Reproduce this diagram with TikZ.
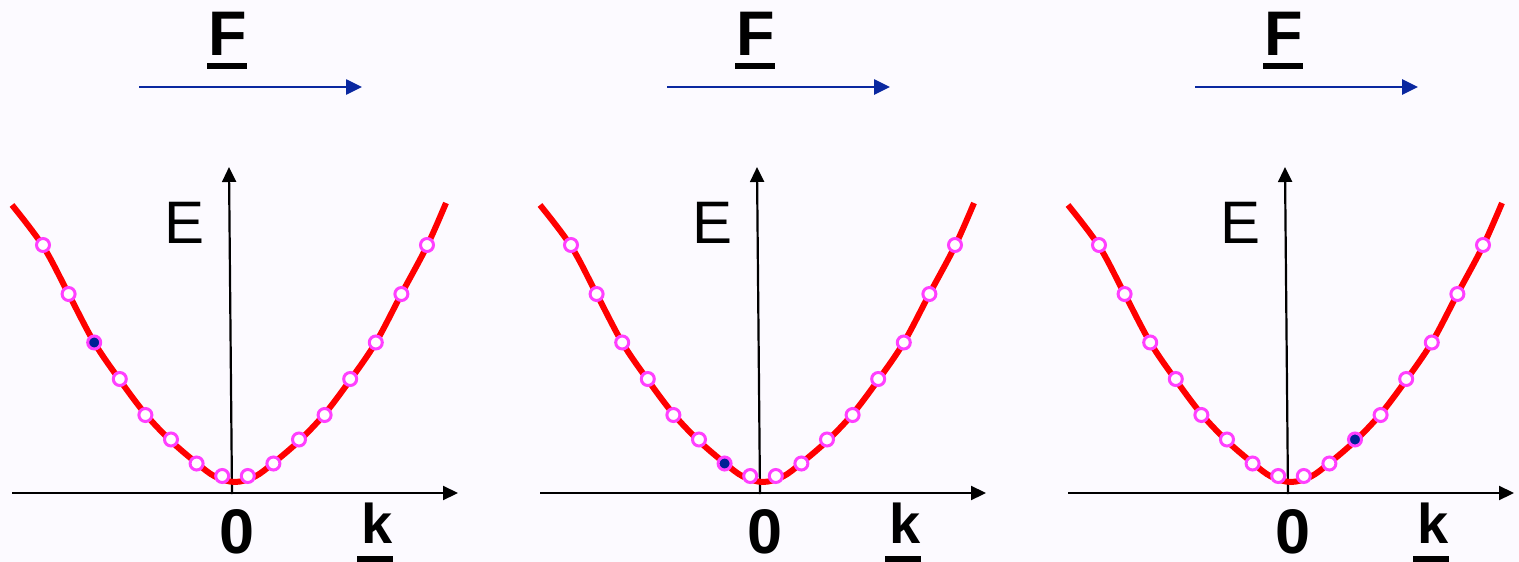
\documentclass[tikz,border=0pt]{standalone}
\usepackage{fontspec}
\setmainfont{Liberation Sans}
\usetikzlibrary{arrows.meta}
\definecolor{bg}{RGB}{252,250,255}
\definecolor{fblue}{RGB}{10,40,160}
\definecolor{dotring}{RGB}{255,64,255}
\definecolor{dotfill}{RGB}{0,32,150}
\tikzset{
  axis/.style={black,line width=2.2pt,-{Triangle[length=15pt,width=14pt]}},
  force/.style={draw=fblue,line width=2.6pt,-{Triangle[length=16pt,width=15pt]}},
  band/.style={red,line width=6pt},
  freestate/.style={circle,draw=dotring,line width=3pt,fill=white,minimum size=13pt,inner sep=0pt},
  occstate/.style={circle,draw=dotring,line width=3pt,fill=dotfill,minimum size=13pt,inner sep=0pt},
  lbl/.style={inner sep=0pt,anchor=base},
  bigbold/.style={font=\bfseries\fontsize{#1}{#1}\selectfont},
  bigreg/.style={font=\fontsize{#1}{#1}\selectfont},
}
\begin{document}
\begin{tikzpicture}[x=1pt,y=-1pt]
\fill[bg] (0,0) rectangle (1519,562);
\useasboundingbox (0,0) rectangle (1519,562);
\foreach \p/\occ in {0/3,1/7,2/11} {
  \begin{scope}[xshift={\p*528pt}]
    % force label and arrow
    \node[lbl,bigbold=63] (F\p) at (228,55) {F};
    \fill ([xshift=-21pt,yshift=-8pt]F\p.base) rectangle ([xshift=19pt,yshift=-14pt]F\p.base);
    \coordinate (fs\p) at (139,87);
    \coordinate (fe\p) at (362,87);
    \draw[force] (fs\p) -- (fe\p);
    % axes
    \coordinate (xo\p) at (12,493);
    \coordinate (xe\p) at (458,493);
    \coordinate (yo\p) at (232,494);
    \coordinate (ye\p) at (229,167);
    \draw[axis] (xo\p) -- (xe\p);
    \draw[axis] (yo\p) -- (ye\p);
    % band
    \draw[band] plot[smooth,tension=0.55] coordinates {
      (12,205) (43,246) (68.6,294) (94.2,342.5) (119.8,380) (145.4,414)
      (171,441) (196.6,463) (215,476.5) (235,482) (255,476.5) (273.4,463)
      (299,441) (324.6,414) (350.2,380) (375.8,342.5) (401.4,294) (427,246) (446,203)};
    % states
    \foreach \x/\y [count=\n] in {43/245,68.6/294,94.2/342.5,119.8/379,145.4/415,171/439.5,196.6/463.5,222.2/476,
                                  247.8/476,273.4/463.5,299/439.5,324.6/415,350.2/379,375.8/342.5,401.4/294,427/245} {
      \ifnum\n=\occ
        \node[occstate] (s\p-\n) at (\x,\y) {};
      \else
        \node[freestate] (s\p-\n) at (\x,\y) {};
      \fi
    }
    % axis labels
    \node[lbl,bigreg=60] (E\p) at (184.5,243) {E};
    \node[lbl,bigbold=63] (Z\p) at (237.5,553) {0};
    \node[lbl,bigbold=56] (k\p) at (377,543) {k};
    \fill ([xshift=-20pt,yshift=-13pt]k\p.base) rectangle ([xshift=16pt,yshift=-19pt]k\p.base);
  \end{scope}
}
\end{tikzpicture}
\end{document}
